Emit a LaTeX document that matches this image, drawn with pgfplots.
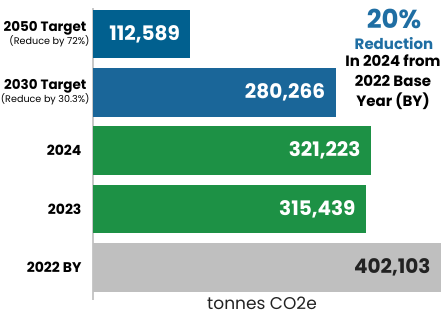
\documentclass[border=0pt]{standalone}
\usepackage{fontspec}
\setmainfont{Poppins}
\usepackage{pgfplots}
\pgfplotsset{compat=1.18}
\definecolor{bluea}{HTML}{01608F}
\definecolor{blueb}{HTML}{1A6699}
\definecolor{greenb}{HTML}{1D9145}
\definecolor{greyb}{HTML}{BFBFBF}
\definecolor{txtblue}{HTML}{1F6EA3}
\definecolor{axgrey}{HTML}{C8C8C8}
\definecolor{dark}{HTML}{222222}
\begin{document}
\begin{tikzpicture}
\useasboundingbox (0,0) rectangle (444pt,325pt);
\begin{axis}[
  at={(93pt,25.4pt)}, anchor=south west, scale only axis,
  width=348pt, height=292pt,
  xbar, bar width=48.5pt,
  xmin=0, xmax=402103, ymin=-0.55, ymax=4.45,
  axis x line=none,
  axis y line*=left,
  y axis line style={draw=axgrey, line width=2pt},
  ytick={0,1,2,3,4},
  yticklabels={
    {\bfseries 2022 BY\hspace*{8pt}},
    {\bfseries 2023\hspace*{8pt}},
    {\bfseries 2024\hspace*{8pt}},
    {{\fontsize{13.5}{15}\selectfont\bfseries 2030 Target\hspace*{3pt}}\\[-3pt]{\fontsize{9.6}{11}\selectfont (Reduce by 30.3\%)}},
    {{\fontsize{13.5}{15}\selectfont\bfseries 2050 Target\hspace*{3pt}}\\[-3pt]{\fontsize{9.6}{11}\selectfont (Reduce by 72\%)}}},
  yticklabel style={align=right, font=\fontsize{14}{16}\selectfont, text=black},
  major tick length=0pt,
  nodes near coords={\pgfmathprintnumber[fixed, 1000 sep={,}, assume math mode=true]{\pgfplotspointmeta}},
  nodes near coords align=left,
  every node near coord/.append style={anchor=east, xshift=-7pt, font=\fontsize{20}{23}\selectfont\bfseries},
]
\addplot[draw=none, fill=greyb, bar shift=0pt, every node near coord/.append style={text=dark}] coordinates {(402103,0)};
\addplot[draw=none, fill=greenb, bar shift=0pt, every node near coord/.append style={text=white}] coordinates {(315439,1)};
\addplot[draw=none, fill=greenb, bar shift=0pt, every node near coord/.append style={text=white}] coordinates {(321223,2)};
\addplot[draw=none, fill=blueb, bar shift=0pt, every node near coord/.append style={text=white}] coordinates {(280266,3)};
\addplot[draw=none, fill=bluea, bar shift=0pt, every node near coord/.append style={text=white}] coordinates {(112589,4)};
\end{axis}
\node[text=dark, font=\fontsize{17}{20}\selectfont] at (262pt,22pt) {tonnes CO2e};
\node[text=txtblue, font=\fontsize{26}{29}\selectfont\bfseries] at (394pt,306pt) {20\%};
\node[text=txtblue, font=\fontsize{15}{17}\selectfont\bfseries] at (394pt,281pt) {Reduction};
\node[text=black, font=\fontsize{15}{20}\selectfont\bfseries, align=center, anchor=north] at (393pt,274pt) {In 2024 from\\2022 Base\\Year (BY)};
\end{tikzpicture}
\end{document}
